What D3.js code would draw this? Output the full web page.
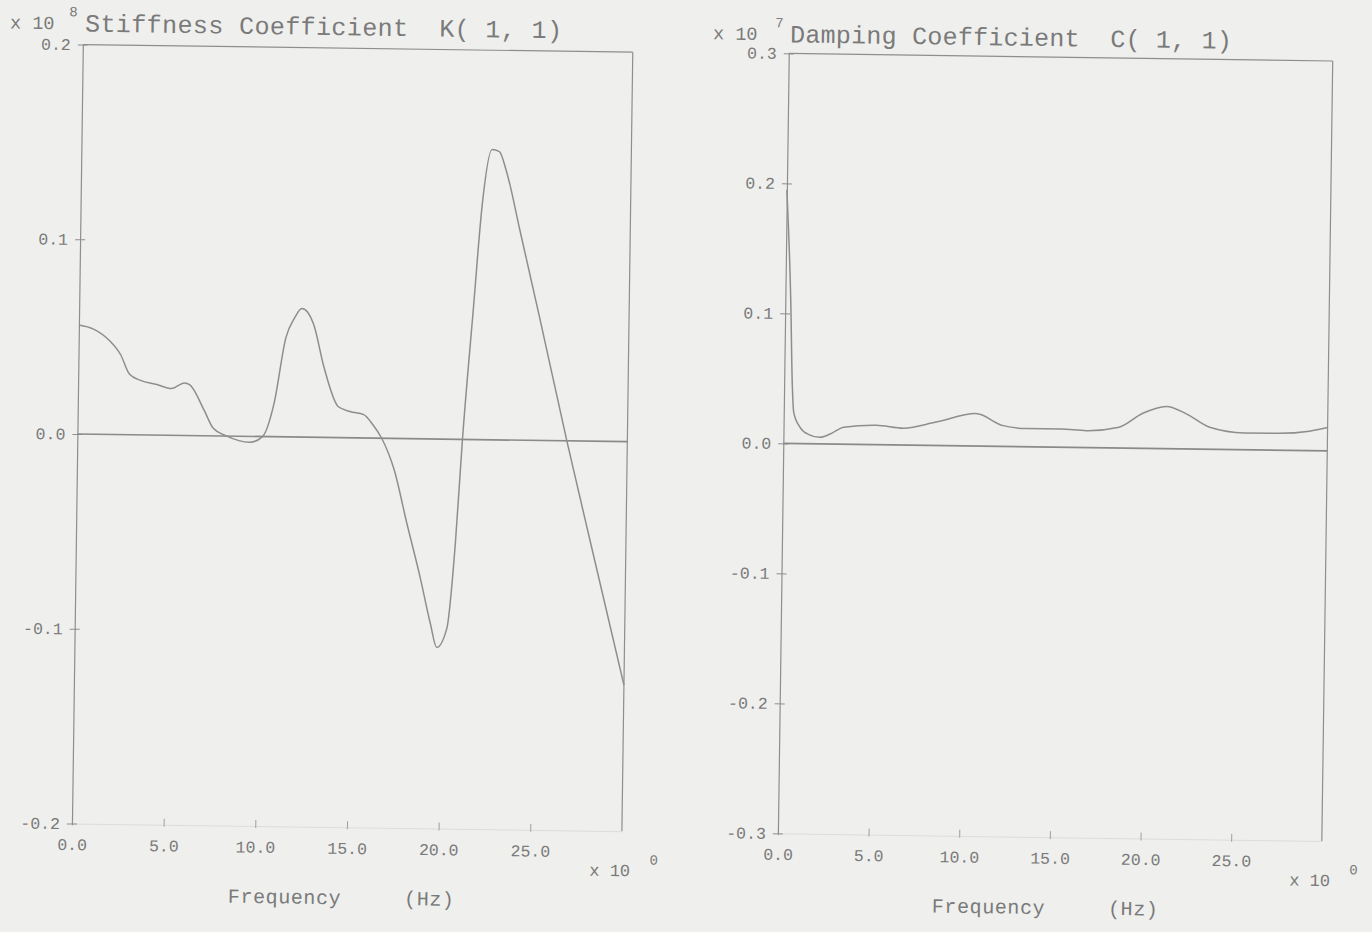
<!DOCTYPE html>
<html><head><meta charset="utf-8">
<script src="https://cdn.jsdelivr.net/npm/d3@7"></script>
<style>
html,body{margin:0;padding:0;background:#efefed;}
svg{display:block;}
text{font-family:'Liberation Mono','Courier New',monospace;fill:#7a7a7a;white-space:pre;}
</style></head><body>
<svg id="chart" width="1372" height="932"></svg>
<script>
// ---- data ----
const kFreq   = [0, 0.8, 1.7, 2.3, 2.8, 3.4, 4.3, 5.1, 5.8, 6.1, 6.9, 7.4, 8.15, 9.4, 10.1, 10.7, 11.3, 11.75, 12.15, 12.8, 13.4, 14.2, 14.85, 15.6, 16.1, 16.6, 17.3, 18.05, 18.8, 19.4, 19.76, 20.3, 20.7, 21.0, 21.5, 21.9, 22.4, 22.8, 23.2, 24.0, 25.1, 26.7, 28.2, 30.0];
const kValues = [0.056, 0.054, 0.048, 0.041, 0.031, 0.028, 0.026, 0.024, 0.027, 0.026, 0.013, 0.004, 0.000, -0.003, 0.000, 0.017, 0.051, 0.061, 0.066, 0.058, 0.036, 0.016, 0.0135, 0.012, 0.007, 0.000, -0.016, -0.044, -0.071, -0.095, -0.107, -0.097, -0.053, -0.001, 0.067, 0.120, 0.149, 0.148, 0.138, 0.107, 0.064, 0.000, -0.057, -0.125];
const cFreq   = [0, 0.3, 0.45, 0.55, 0.9, 1.4, 2.0, 2.75, 3.3, 5.1, 6.6, 8.4, 10.6, 12.1, 13.4, 15.3, 16.7, 18.5, 19.8, 21.1, 22.2, 23.5, 25.4, 27.2, 29.0, 30.0];
const cValues = [0.195, 0.11, 0.045, 0.024, 0.0127, 0.007, 0.005, 0.009, 0.013, 0.015, 0.013, 0.018, 0.025, 0.016, 0.014, 0.014, 0.013, 0.016, 0.027, 0.0325, 0.027, 0.017, 0.013, 0.013, 0.015, 0.018];
const xTicks = [0, 5, 10, 15, 20, 25];
const kTicks = [0.2, 0.1, 0.0, -0.1, -0.2];
const cTicks = [0.3, 0.2, 0.1, 0.0, -0.1, -0.2, -0.3];
const kTitle = "Stiffness Coefficient  K( 1, 1)";
const cTitle = "Damping Coefficient  C( 1, 1)";
const kExp = "8", cExp = "7", xExp = "0";
const xLabel = "Frequency     (Hz)";

const LINE = "#8e8e8e";
const svg = d3.select("#chart");
const root = svg.append("g").attr("transform", "rotate(0.8,686,466)");

function panel(o) {
  const g = root.append("g");
  const x = d3.scaleLinear().domain([0, 30]).range([o.x0, o.x1]);
  const y = d3.scaleLinear().domain([-o.ymax, o.ymax]).range([o.yb, o.yt]);

  // top and right frame
  g.append("line").attr("x1", x(0)).attr("x2", x(30)).attr("y1", y(o.ymax)).attr("y2", y(o.ymax))
    .attr("stroke", LINE).attr("stroke-width", 1.2);
  g.append("line").attr("x1", x(30)).attr("x2", x(30)).attr("y1", y(o.ymax)).attr("y2", y(-o.ymax))
    .attr("stroke", LINE).attr("stroke-width", 1.2);

  // bottom axis (faded in scan)
  const xa = g.append("g").attr("transform", `translate(0,${y(-o.ymax)})`)
    .call(d3.axisBottom(x).tickValues(xTicks).tickFormat(d => d.toFixed(1)).tickSize(5).tickSizeOuter(0).tickPadding(10));
  xa.select(".domain").attr("stroke", "#dcdcda").attr("stroke-width", 1);
  xa.selectAll(".tick line").attr("y1", -6).attr("y2", 2).attr("stroke", "#a0a0a0");
  xa.selectAll(".tick text").attr("font-size", 16.5).attr("fill", "#7a7a7a")
    .style("font-family", "'Liberation Mono',monospace");

  // left axis
  const ya = g.append("g").attr("transform", `translate(${x(0)},0)`)
    .call(d3.axisLeft(y).tickValues(o.ticks).tickFormat(d => d.toFixed(1)).tickSize(5).tickSizeOuter(0).tickPadding(7));
  ya.select(".domain").attr("stroke", LINE).attr("stroke-width", 1.2);
  ya.selectAll(".tick line").attr("x1", 5).attr("stroke", LINE);
  ya.selectAll(".tick text").attr("font-size", 16.5).attr("fill", "#7a7a7a")
    .style("font-family", "'Liberation Mono',monospace");

  // zero line
  g.append("line").attr("x1", x(0)).attr("x2", x(30)).attr("y1", y(0)).attr("y2", y(0))
    .attr("stroke", "#8a8a8a").attr("stroke-width", 1.7);

  // curve
  const data = o.f.map((f, i) => [f, o.v[i]]);
  g.append("path").datum(data)
    .attr("fill", "none").attr("stroke", "#8e8e8e").attr("stroke-width", 1.5)
    .attr("d", d3.line().x(d => x(d[0])).y(d => y(d[1])).curve(d3.curveMonotoneX));

  // title block
  g.append("text").attr("x", o.x10x).attr("y", o.titleY - 2).attr("font-size", 18.5).text("x 10");
  g.append("text").attr("x", o.expX).attr("y", o.titleY - 15).attr("font-size", 14).text(o.exp);
  g.append("text").attr("x", o.titleX).attr("y", o.titleY).attr("font-size", 25)
    .attr("textLength", o.titleW).attr("lengthAdjust", "spacing").text(o.title);

  // x-axis multiplier and label
  g.append("text").attr("x", x(30) - 32).attr("y", 877).attr("font-size", 17).text("x 10");
  g.append("text").attr("x", x(30) + 28).attr("y", 865).attr("font-size", 14).text(xExp);
  g.append("text").attr("x", o.xlabX).attr("y", 909).attr("font-size", 20)
    .attr("textLength", 226).attr("lengthAdjust", "spacing").text(xLabel);
}

panel({x0: 77, x1: 627, yt: 53, yb: 832, ymax: 0.2, ticks: kTicks, f: kFreq, v: kValues,
  title: kTitle, exp: kExp, titleX: 79, titleY: 40, titleW: 477, x10x: 4, expX: 63, xlabX: 234});
panel({x0: 783, x1: 1327, yt: 52, yb: 832, ymax: 0.3, ticks: cTicks, f: cFreq, v: cValues,
  title: cTitle, exp: cExp, titleX: 784, titleY: 41, titleW: 442, x10x: 707, expX: 769, xlabX: 938});
</script>
</body></html>
